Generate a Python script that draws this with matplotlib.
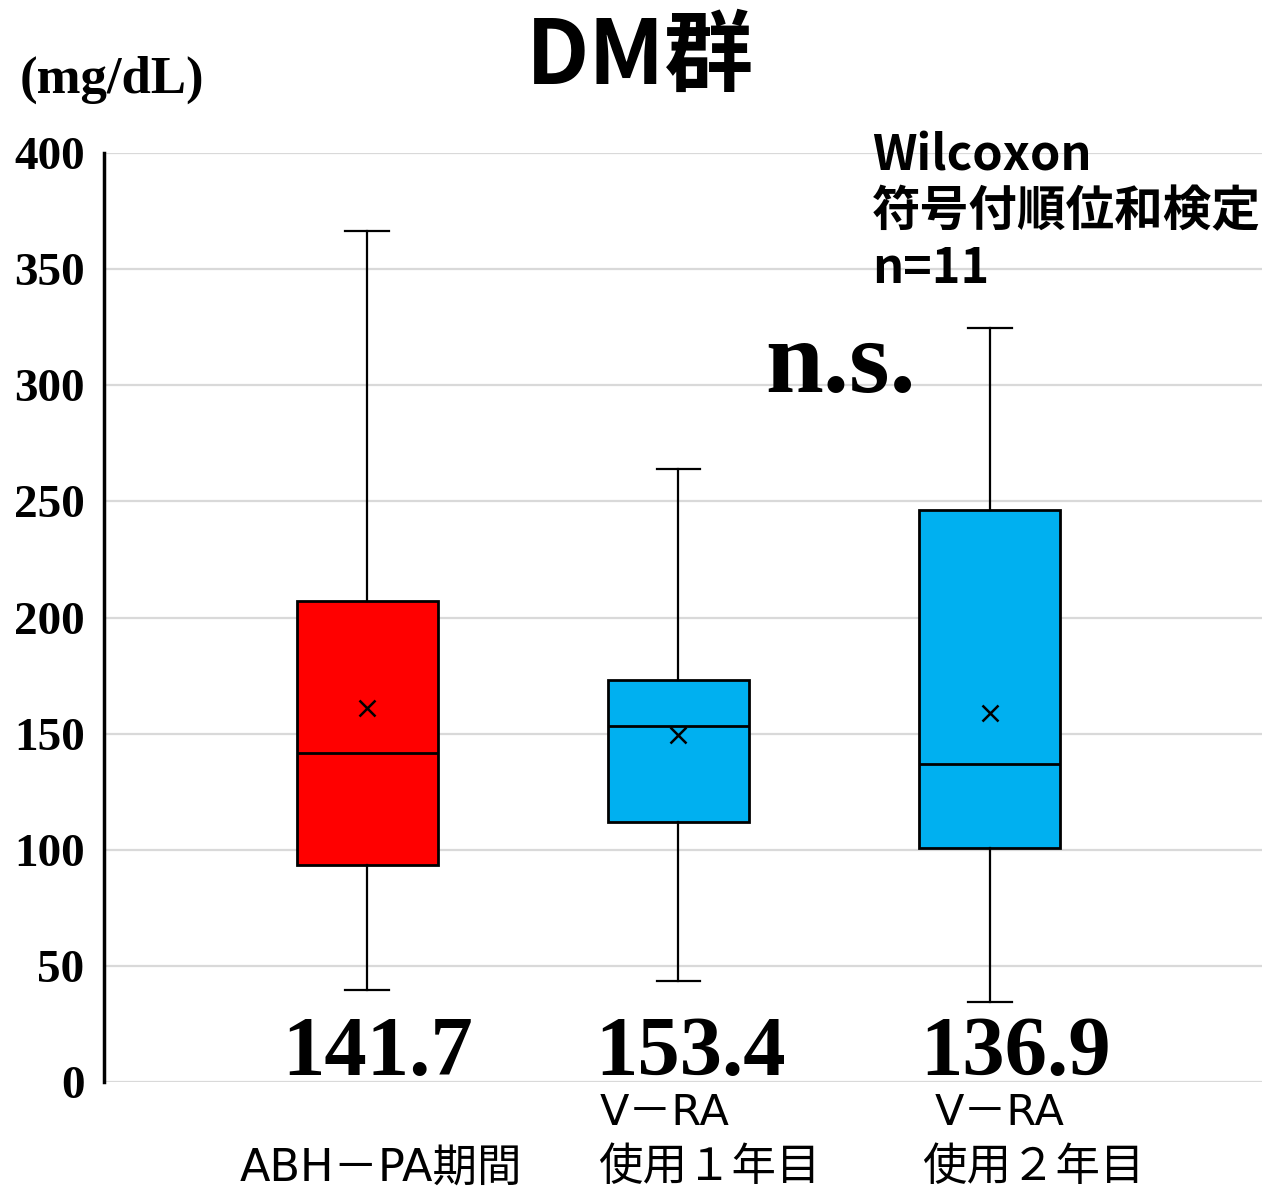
import matplotlib.pyplot as plt

plt.rcParams['font.family'] = ['Noto Sans CJK JP', 'DejaVu Sans']

# box statistics (mg/dL)
whislo = [39.6, 43.5, 34.4]
q1 = [93.4, 111.9, 100.8]
med = [141.7, 153.4, 136.9]
q3 = [207.1, 173.1, 246.3]
whishi = [366.4, 263.9, 324.7]
means = [161.0, 149.4, 158.9]
colors = ["#FF0000", "#00B0F0", "#00B0F0"]
med_labels = ["141.7", "153.4", "136.9"]
label_top = ["", "V－RA", "V－RA"]
label_bottom = ["ABH－PA期間", "使用１年目", "使用２年目"]

W, H = 1262, 1194
fig = plt.figure(figsize=(W / 100, H / 100), dpi=100)
ax = fig.add_axes([104 / W, 112 / H, 1 - 104 / W, 929 / H])

stats = []
for i in range(3):
    stats.append(dict(med=med[i], q1=q1[i], q3=q3[i], whislo=whislo[i],
                      whishi=whishi[i], mean=means[i], fliers=[]))

pos = [1, 2, 3]
bp = ax.bxp(stats, positions=pos, widths=0.453, capwidths=0.14,
            patch_artist=True, showmeans=True, showfliers=False,
            boxprops=dict(edgecolor="black", linewidth=2),
            medianprops=dict(color="black", linewidth=2),
            whiskerprops=dict(color="black", linewidth=1.6),
            capprops=dict(color="black", linewidth=1.6),
            meanprops=dict(marker="x", markeredgecolor="black",
                           markersize=12, markeredgewidth=1.8))
for patch, c in zip(bp["boxes"], colors):
    patch.set_facecolor(c)

ax.set_xlim(1 - 263 / 311, 3 + 272 / 311)
ax.set_ylim(0, 400)
ax.set_yticks(range(0, 401, 50))
ax.yaxis.grid(True, color="#d9d9d9", linewidth=1.6)
ax.set_axisbelow(True)
ax.set_xticks([])
for s in ["top", "right", "bottom"]:
    ax.spines[s].set_visible(False)
ax.spines["left"].set_linewidth(2.5)
ax.tick_params(axis="y", length=0, pad=14)
for lab in ax.get_yticklabels():
    lab.set_fontfamily("Liberation Serif")
    lab.set_fontweight("bold")
    lab.set_fontsize(34)

# median values under each box
for x, t, dx in zip(pos, med_labels, [0.035, 0.039, 0.084]):
    ax.text(x + dx, 3, t, ha="center", va="baseline", fontsize=61,
            fontweight="bold", family="Liberation Serif")

# group labels (pixel positions of the left edges)
top_x = [0, 600, 935]
bot_x = [240, 598, 922]
fam = ["DejaVu Sans", "Noto Sans CJK JP"]
for i in range(3):
    if label_top[i]:
        fig.text(top_x[i] / W, 1 - 1113 / H, label_top[i], ha="left",
                 va="center", fontsize=31, family=fam)
    fig.text(bot_x[i] / W, 1 - 1168 / H, label_bottom[i], ha="left",
             va="center", fontsize=32, family=fam)

fig.text(640 / W, 1 - 58 / H, "DM群", ha="center", va="center",
         fontsize=64, fontweight="bold")
fig.text(20 / W, 1 - 80 / H, "(mg/dL)", ha="left", va="center",
         fontsize=38, fontweight="bold", family="Liberation Serif")
fig.text(872 / W, 1 - 212 / H, "Wilcoxon\n符号付順位和検定\nn=11",
         ha="left", va="center", fontsize=35, fontweight="bold",
         linespacing=1.18)
ax.text(2.52, 297, "n.s.", ha="center", va="baseline", fontsize=75,
        fontweight="bold", family="Liberation Serif")

fig.savefig("out.png", dpi=100)
